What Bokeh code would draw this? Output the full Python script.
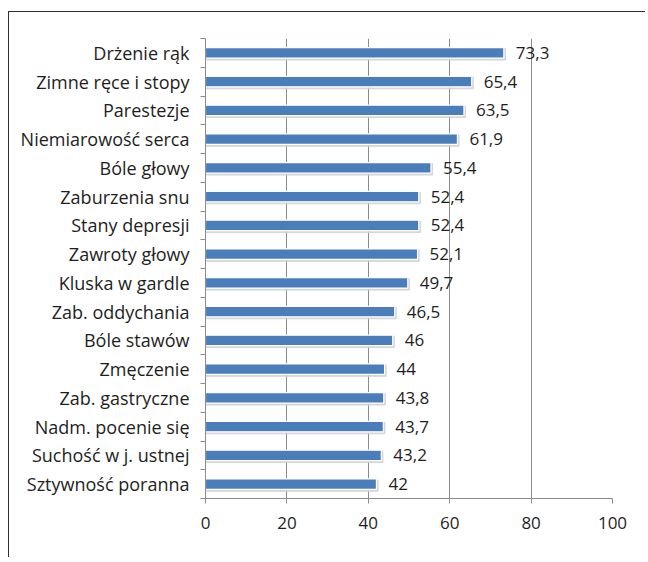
from bokeh.plotting import figure
from bokeh.layouts import column
from bokeh.models import FixedTicker, ColumnDataSource, Range1d
from bokeh.core.properties import value
from bokeh.embed import file_html
from bokeh.resources import INLINE

categories = ["Drżenie rąk", "Zimne ręce i stopy", "Parestezje", "Niemiarowość serca",
              "Bóle głowy", "Zaburzenia snu", "Stany depresji", "Zawroty głowy",
              "Kluska w gardle", "Zab. oddychania", "Bóle stawów", "Zmęczenie",
              "Zab. gastryczne", "Nadm. pocenie się", "Suchość w j. ustnej", "Sztywność poranna"]
values = [73.3, 65.4, 63.5, 61.9, 55.4, 52.4, 52.4, 52.1, 49.7, 46.5, 46, 44, 43.8, 43.7, 43.2, 42]
x_ticks = [0, 20, 40, 60, 80, 100]

n = len(categories)
ypos = [n - 0.5 - i for i in range(n)]
labels = [("%g" % v).replace(".", ",") for v in values]
src = ColumnDataSource(dict(y=ypos, v=values, lab=labels, cat=categories,
                            ys=[y - 0.05 for y in ypos], vs=[v + 0.4 for v in values]))

FONT = "Open Sans"
TXT = "#1e1e1e"
GRID = "#8c8c8c"

p = figure(width=636, height=545, output_backend="svg", toolbar_location=None,
           x_range=Range1d(0, 100), y_range=Range1d(0, n),
           min_border_left=196, min_border_top=26, min_border_right=33, min_border_bottom=59)
p.outline_line_color = None
p.background_fill_color = "white"

# shadow
p.hbar(y="ys", right="vs", left=0, height=0.40, source=src, color="#cfcfcf", alpha=0.8)
p.hbar(y="y", right="v", left=0, height=0.36, source=src, fill_color="#4a7ebb",
       line_color="white", line_width=1.2)
p.text(x="v", y="y", text="lab", source=src, x_offset=12, text_baseline="middle",
       text_font=value(FONT), text_font_size="17px", text_color=TXT)

# x axis
p.xaxis.ticker = FixedTicker(ticks=x_ticks)
p.xaxis.major_label_text_font = FONT
p.xaxis.major_label_text_font_size = "17px"
p.xaxis.major_label_text_color = TXT
p.xaxis.major_label_standoff = 13
p.xaxis.axis_line_color = GRID
p.xaxis.major_tick_line_color = GRID
p.xaxis.major_tick_in = 0
p.xaxis.major_tick_out = 5
p.xaxis.minor_tick_line_color = None

# y axis: labels at centres, tick marks at boundaries
p.yaxis.ticker = FixedTicker(ticks=ypos, minor_ticks=list(range(n + 1)))
p.yaxis.major_label_overrides = {y: c for y, c in zip(ypos, categories)}
p.yaxis.major_label_text_font = FONT
p.yaxis.major_label_text_font_size = "18px"
p.yaxis.major_label_text_color = TXT
p.yaxis.major_label_standoff = 10
p.yaxis.major_tick_line_color = None
p.yaxis.axis_line_color = GRID
p.yaxis.minor_tick_line_color = GRID
p.yaxis.minor_tick_in = 0
p.yaxis.minor_tick_out = 5

p.xgrid.grid_line_color = GRID
p.xgrid.ticker = FixedTicker(ticks=x_ticks[1:])
p.ygrid.grid_line_color = None

layout = column(p, styles={"position": "relative", "left": "8px", "top": "11px",
                           "border-left": "1px solid #303030",
                           "border-top": "1px solid #303030"})

open("out.html", "w").write(file_html(layout, INLINE))
